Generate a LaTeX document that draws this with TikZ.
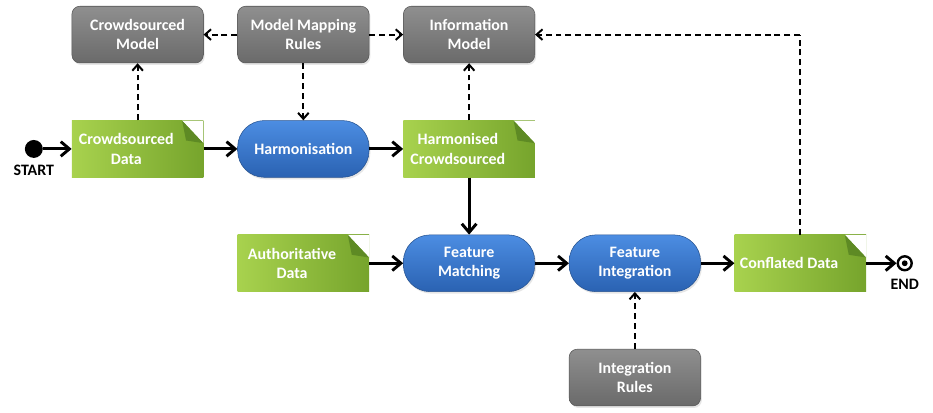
\documentclass[tikz,border=0pt]{standalone}
\usepackage{fontspec}
\setmainfont{Carlito}
\usetikzlibrary{arrows.meta, graphs, positioning, calc, shadows}

\definecolor{ruletop}{HTML}{8F8F8F}
\definecolor{rulebottom}{HTML}{6A6A6A}
\definecolor{ruleedge}{HTML}{555555}
\definecolor{steptop}{HTML}{4C8DE2}
\definecolor{stepbottom}{HTML}{2A62B2}
\definecolor{stepedge}{HTML}{26528F}
\definecolor{dataleft}{HTML}{A8D24E}
\definecolor{dataright}{HTML}{76A42C}
\definecolor{datafold}{HTML}{5E8A24}

\begin{document}
\begin{tikzpicture}
    [
        box/.style = {
                minimum width=99pt,
                minimum height=42.75pt,
                inner xsep=1pt,
                text width=97pt,
                align=flush center,
                text=white,
                font=\bfseries\fontsize{12}{14.5}\selectfont
            },
        rulebox/.style = {
                box,
                draw=ruleedge,
                top color=ruletop,
                bottom color=rulebottom,
                rounded corners=6pt,
                drop shadow={opacity=0.2, shadow xshift=1pt, shadow yshift=-1.5pt}
            },
        stepbox/.style = {
                box,
                draw=stepedge,
                top color=steptop,
                bottom color=stepbottom,
                rounded corners=20pt,
                drop shadow={opacity=0.2, shadow xshift=1pt, shadow yshift=-1.5pt}
            },
        databox/.style = {
                box,
                left color=dataleft,
                right color=dataright,
                execute at begin node={\leftskip=0pt plus 1fil\rightskip=17pt plus 1fil},
                path picture={
                        \fill[white] ([xshift=-16pt]path picture bounding box.north east)
                            -- (path picture bounding box.north east)
                            -- ([yshift=-17pt]path picture bounding box.north east) -- cycle;
                        \fill[datafold] ([xshift=-16pt]path picture bounding box.north east)
                            -- ([yshift=-17pt]path picture bounding box.north east)
                            -- ([xshift=-13pt,yshift=-15pt]path picture bounding box.north east) -- cycle;
                    }
            },
        startdot/.style = {circle, fill=black, inner sep=0pt, minimum size=13.5pt},
        finishdot/.style = {
                circle, draw=black, fill=white, line width=1.8pt,
                inner sep=0pt, minimum size=10.5pt,
                path picture={\fill[black] (path picture bounding box.center) circle (2.2pt);}
            },
        tag/.style = {inner sep=0pt, font=\bfseries\fontsize{12}{14}\selectfont},
        flowline/.style = {line width=2.2pt, >={Straight Barb[length=6.5pt, width=11pt]}},
        linkline/.style = {line width=1.5pt, dash pattern=on 4.5pt off 3pt,
                >={Straight Barb[length=4.5pt, width=8pt]}},
    ]

    \matrix[row sep=43pt, column sep=25.5pt] {
                                                               &[-3.75pt]
        \node [rulebox] (cmodel) {Crowdsourced\\Model};        &
        \node [rulebox] (rules) {Model Mapping\\Rules};        &
        \node [rulebox] (imodel) {Information\\Model};         &
                                                               &
        \coordinate (corner);                                  &[-2.5pt] \\
        \node [startdot] (start) {};                           &[-3.75pt]
        \node [databox] (cdata) {Crowdsourced\\Data};          &
        \node [stepbox] (harm) {Harmonisation};                &
        \node [databox] (hdata) {Harmonised\\Crowdsourced};    & \\
                                                               &[-3.75pt]
                                                               &
        \node [databox] (adata) {Authoritative\\Data};         &
        \node [stepbox] (fmatch) {Feature\\Matching};          &
        \node [stepbox] (finteg) {Feature\\Integration};       &
        \node [databox] (conflated) {Conflated Data};          &[-2.5pt]
        \node [finishdot] (finish) {};                         \\
                                                               &[-3.75pt]
                                                               &
                                                               &
                                                               &
        \node [rulebox] (irules) {Integration\\Rules};         & \\
    };

    \node [tag, below=5pt of start] (startlabel) {START};
    \node [tag, below=6pt of finish] (finishlabel) {END};

    \graph[use existing nodes, edges={flowline}] {
        start -> cdata -> harm -> hdata -> fmatch -> finteg -> conflated -> finish;
        adata -> fmatch;
    };

    \graph[use existing nodes, edges={linkline}] {
        cdata -> cmodel;
        rules -> {cmodel, imodel, harm};
        hdata -> imodel;
        irules -> finteg;
        conflated -- corner -> imodel;
    };

    \path[use as bounding box] ($(cdata.west |- cmodel.north)+(-54pt,4.5pt)$)
        rectangle ($(conflated.east |- irules.south)+(50.25pt,-4.5pt)$);

\end{tikzpicture}
\end{document}
